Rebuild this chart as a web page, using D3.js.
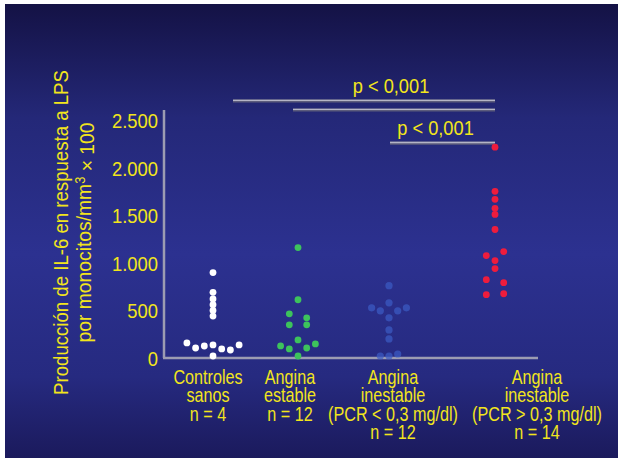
<!DOCTYPE html>
<html>
<head>
<meta charset="utf-8">
<script src="https://cdn.jsdelivr.net/npm/d3@7"></script>
<style>
  html, body { margin: 0; padding: 0; background: #ffffff; }
  svg { display: block; }
  text { font-family: "Liberation Sans", Arial, sans-serif; fill: #f2e51c; }
</style>
</head>
<body>
<div id="chart"></div>
<script>
// groups, left to right
const groups = ['controles', 'estable', 'inestableBaja', 'inestableAlta'];

const groupLabels = [
  ['Controles', 'sanos', 'n = 4'],
  ['Angina', 'estable', 'n = 12'],
  ['Angina', 'inestable', '(PCR < 0,3 mg/dl)', 'n = 12'],
  ['Angina', 'inestable', '(PCR > 0,3 mg/dl)', 'n = 14'],
];

// IL-6 values (per monocytes/mm3 x 100) and the swarm column of each dot
const controlesValues = [897, 690, 620, 560, 500, 440, 158, 105, 126, 137, 95, 84, 137, 21];
const controlesSlots = [0, 0, 0, 0, 0, 0, -3, -2, -1, 0, 1, 2, 3, 0];

const estableValues = [1160, 612, 464, 422, 348, 348, 190, 127, 95, 105, 148, 21];
const estableSlots = [0, 0, -1, 1, -1, 1, 0, -2, -1, 1, 2, 0];

const inestableBajaValues = [760, 580, 527, 496, 496, 527, 422, 295, 200, 21, 21, 42];
const inestableBajaSlots = [0, 0, -2, -1, 1, 2, 0, 0, 0, -1, 0, 1];

const inestableAltaValues = [2215, 1751, 1667, 1572, 1508, 1350, 1118, 1076, 1023, 939, 823, 791, 665, 675];
const inestableAltaSlots = [0, 0, 0, 0, 0, 0, 1, -1, 0, 0, -1, 1, -1, 1];

const yTicks = [0, 500, 1000, 1500, 2000, 2500];

// significance brackets: from group, to group, height in data units
const brackets = [
  { from: 'controles', to: 'inestableAlta', value: 2700, dx: 20, label: 'p < 0,001', labelDx: 27 },
  { from: 'estable', to: 'inestableAlta', value: 2605, dx: -5, label: null },
  { from: 'inestableBaja', to: 'inestableAlta', value: 2257, dx: 1, label: 'p < 0,001', labelDx: -7 },
];

const dotColors = { controles: '#ffffff', estable: '#3cc35c', inestableBaja: '#3b5cc4', inestableAlta: '#ee1c3c' };

const width = 618;
const height = 460;

const svg = d3.select('#chart').append('svg').attr('width', width).attr('height', height);

const defs = svg.append('defs');
const grad = defs.append('linearGradient').attr('id', 'bg').attr('x1', 0).attr('y1', 0).attr('x2', 0).attr('y2', 1);
grad.append('stop').attr('offset', '0%').attr('stop-color', '#141245');
grad.append('stop').attr('offset', '25%').attr('stop-color', '#242878');
grad.append('stop').attr('offset', '55%').attr('stop-color', '#2c3190');
grad.append('stop').attr('offset', '82%').attr('stop-color', '#262a80');
grad.append('stop').attr('offset', '100%').attr('stop-color', '#1b1a5c');

const soft = defs.append('filter').attr('id', 'soft').attr('x', '-50%').attr('y', '-50%').attr('width', '200%').attr('height', '200%');
soft.append('feGaussianBlur').attr('stdDeviation', 0.45);

svg.append('rect').attr('x', 5).attr('y', 4).attr('width', width - 5).attr('height', 454).attr('fill', 'url(#bg)');

const y = d3.scaleLinear().domain([0, 2500]).range([358, 120]);
const x = d3.scaleOrdinal().domain(groups).range([213, 298, 389, 495]);
const xLabel = d3.scaleOrdinal().domain(groups).range([208, 290, 393, 537]);
const slot = d3.scaleLinear().domain([-1, 1]).range([-8.7, 8.7]);

const fmt = d3.formatLocale({ decimal: ',', thousands: '.', grouping: [3], currency: ['', ''] }).format(',');

// axis lines
const axisColor = '#9c9cb2';
svg.append('line')
  .attr('x1', 164).attr('x2', 164)
  .attr('y1', 110).attr('y2', y(0))
  .attr('stroke', axisColor).attr('stroke-width', 2.5);
svg.append('line')
  .attr('x1', 163).attr('x2', 538)
  .attr('y1', y(0)).attr('y2', y(0))
  .attr('stroke', axisColor).attr('stroke-width', 2.5);

svg.append('g')
  .selectAll('text')
  .data(yTicks)
  .join('text')
  .attr('transform', (d) => `translate(158,${y(d) + 0.5}) scale(0.875,1)`)
  .attr('dy', '0.36em')
  .attr('text-anchor', 'end')
  .style('font-size', '21px')
  .text((d) => fmt(d));

// y title
const title = svg.append('g').attr('transform', 'translate(0,232.5) rotate(-90)');
title.append('text')
  .attr('transform', 'translate(0,60.5) scale(0.887,1)')
  .attr('dy', '0.36em')
  .attr('text-anchor', 'middle')
  .style('font-size', '21px')
  .text('Producción de IL-6 en respuesta a LPS');
const t2 = title.append('text')
  .attr('transform', 'translate(0,83.5) scale(0.92,1)')
  .attr('dy', '0.36em')
  .attr('text-anchor', 'middle')
  .style('font-size', '21px');
t2.append('tspan').text('por monocitos/mm');
t2.append('tspan').attr('dy', '-0.4em').style('font-size', '14px').text('3');
t2.append('tspan').attr('dy', '0.4em').text(' × 100');

// significance brackets
const br = svg.append('g').selectAll('g').data(brackets).join('g');
br.append('line')
  .attr('x1', (d) => x(d.from) + d.dx).attr('x2', (d) => x(d.to))
  .attr('y1', (d) => y(d.value)).attr('y2', (d) => y(d.value))
  .attr('stroke', '#5c5c7c').attr('stroke-width', 3.2);
br.append('line')
  .attr('x1', (d) => x(d.from) + d.dx).attr('x2', (d) => x(d.to))
  .attr('y1', (d) => y(d.value) - 0.6).attr('y2', (d) => y(d.value) - 0.6)
  .attr('stroke', '#b4b4c6').attr('stroke-width', 1.4);
br.filter((d) => d.label)
  .append('text')
  .attr('transform', (d) => `translate(${(x(d.from) + d.dx + x(d.to)) / 2 + d.labelDx},${y(d.value) - 8}) scale(0.89,1)`)
  .attr('text-anchor', 'middle')
  .style('font-size', '20.5px')
  .text((d) => d.label);

// dots
const series = [
  { key: 'controles', values: controlesValues, slots: controlesSlots },
  { key: 'estable', values: estableValues, slots: estableSlots },
  { key: 'inestableBaja', values: inestableBajaValues, slots: inestableBajaSlots },
  { key: 'inestableAlta', values: inestableAltaValues, slots: inestableAltaSlots },
];

series.forEach((s) => {
  const pts = s.values.map((v, i) => ({ v, s: s.slots[i] }));
  svg.append('g')
    .attr('filter', 'url(#soft)')
    .selectAll('circle')
    .data(pts)
    .join('circle')
    .attr('cx', (d) => x(s.key) + slot(d.s))
    .attr('cy', (d) => y(d.v))
    .attr('r', s.key === 'inestableBaja' ? 3.6 : 3.4)
    .attr('fill', dotColors[s.key])
    .attr('opacity', s.key === 'inestableBaja' ? 0.72 : 1);
});

// category labels
groups.forEach((g, i) => {
  svg.append('g')
    .attr('transform', `translate(${xLabel(g)},384) scale(0.83,1)`)
    .selectAll('text')
    .data(groupLabels[i])
    .join('text')
    .attr('y', (d, j) => j * 18.3)
    .attr('text-anchor', 'middle')
    .style('font-size', '19.5px')
    .text((d) => d);
});
</script>
</body>
</html>
